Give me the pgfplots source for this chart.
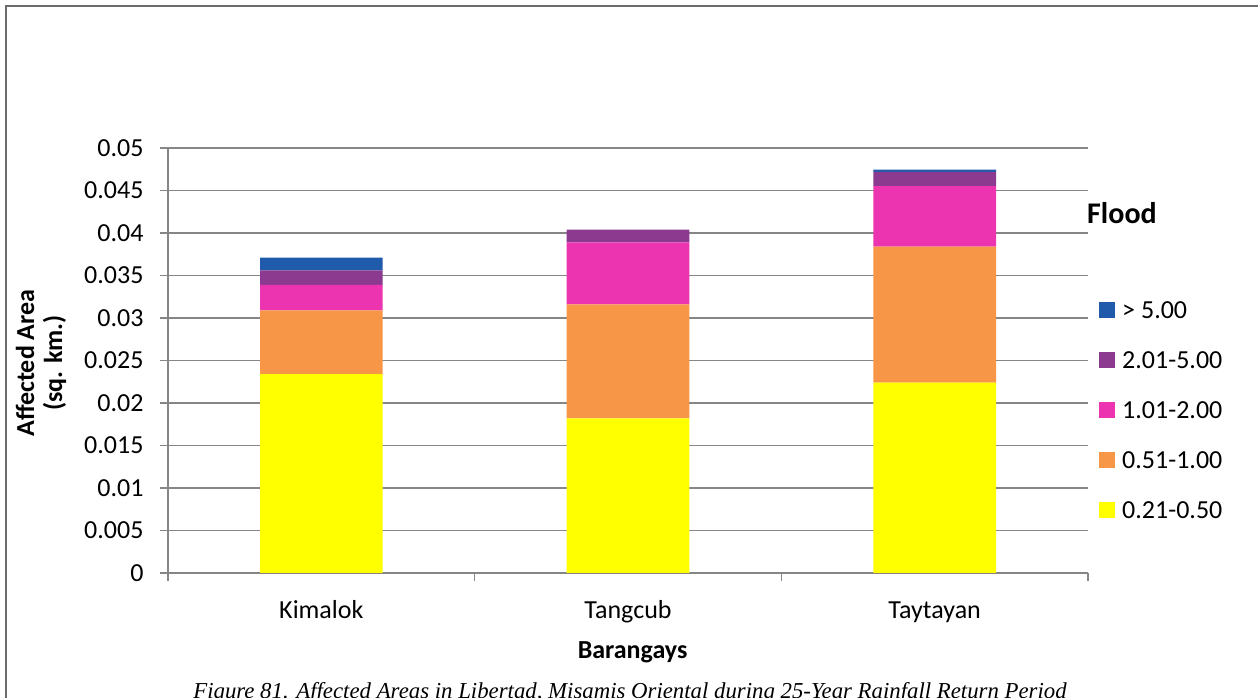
\documentclass[border=0pt]{standalone}
\usepackage{pgfplots}
\pgfplotsset{compat=1.18}
\usepackage{fontspec}
\setmainfont{Carlito}
\newfontfamily\capfont{Liberation Serif}
\definecolor{cYel}{HTML}{FFFF00}
\definecolor{cOra}{HTML}{F79646}
\definecolor{cPin}{HTML}{EC33B0}
\definecolor{cPur}{HTML}{8B3A8F}
\definecolor{cBlu}{HTML}{1F5BAA}
\definecolor{axgray}{HTML}{868686}
\newcommand{\fs}{\fontsize{26}{28}\selectfont}
\begin{document}
\begin{tikzpicture}[x=1pt,y=1pt]
\useasboundingbox (0,0) rectangle (1258,698);
\clip (0,0) rectangle (1258,698);
\fill[white] (0,0) rectangle (1258,698);
\draw[color=gray!85!black, line width=2.5pt] (6,-5) -- (6,692) -- (1265,692);
\begin{axis}[
  at={(168pt,125pt)}, anchor=south west, scale only axis,
  width=920pt, height=425pt,
  ybar stacked, bar width=0.4,
  xmin=-0.5, xmax=2.5, ymin=0, ymax=0.05,
  scaled y ticks=false,
  axis x line*=bottom, axis y line*=left,
  axis line style={axgray, line width=1.4pt},
  tick style={axgray, line width=1.4pt},
  tick align=outside, major tick length=8pt,
  xtick={-0.5,0.5,1.5,2.5}, xticklabels={},
  extra x ticks={0,1,2}, extra x tick labels={Kimalok,Tangcub,Taytayan},
  extra x tick style={major tick length=0pt},
  xticklabel style={font=\fs, anchor=base, yshift=-46pt},
  ytick={0,0.005,0.01,0.015,0.02,0.025,0.03,0.035,0.04,0.045,0.05},
  yticklabels={0,0.005,0.01,0.015,0.02,0.025,0.03,0.035,0.04,0.045,0.05},
  yticklabel style={font=\fs, xshift=-13pt},
  ymajorgrids, grid style={axgray, line width=1.4pt},
  ylabel={Affected Area\\(sq. km.)},
  ylabel style={font=\fs\bfseries, align=center, at={(axis description cs:-0.138,0.494)}, anchor=center},
  xlabel={Barangays},
  xlabel style={font=\fs\bfseries, at={(axis description cs:0.505,-0.186)}, anchor=center},
  reverse legend,
  legend cell align=left,
  legend image code/.code={\fill[#1] (0pt,-5pt) rectangle (16pt,11pt);},
  legend style={draw=none, fill=none, font=\fs, at={(1.012,0.377)}, anchor=west,
    inner sep=0pt, row sep=26pt,
    nodes={inner sep=0pt, text height=18pt, text depth=6pt},
    /tikz/every odd column/.style={column sep=7pt}},
]
\addplot[fill=cYel, draw=none] coordinates {(0,0.0234) (1,0.0182) (2,0.0224)};
\addplot[fill=cOra, draw=none] coordinates {(0,0.0075) (1,0.0134) (2,0.0160)};
\addplot[fill=cPin, draw=none] coordinates {(0,0.0030) (1,0.0073) (2,0.0071)};
\addplot[fill=cPur, draw=none] coordinates {(0,0.0017) (1,0.0015) (2,0.0017)};
\addplot[fill=cBlu, draw=none] coordinates {(0,0.0015) (1,0.0) (2,0.00025)};
\legend{0.21-0.50,0.51-1.00,1.01-2.00,2.01-5.00,> 5.00}
\end{axis}
\node[anchor=west, font=\fontsize{30}{34}\selectfont\bfseries, inner sep=0pt] at (1087,485) {Flood};
\node[anchor=base, font=\capfont\itshape\fontsize{22.8}{26}\selectfont, inner sep=0pt] at (630,-1) {Figure 81. Affected Areas in Libertad, Misamis Oriental during 25-Year Rainfall Return Period};
\end{tikzpicture}
\end{document}
